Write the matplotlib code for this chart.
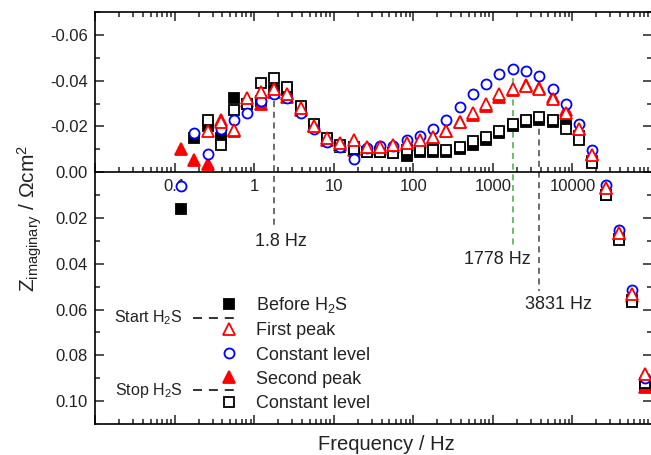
import numpy as np
import matplotlib
matplotlib.use('Agg')
import matplotlib.pyplot as plt
from matplotlib.lines import Line2D
from matplotlib.ticker import FixedLocator, FixedFormatter, LogLocator, MultipleLocator, NullFormatter, FuncFormatter

plt.rcParams['font.family'] = ['Liberation Sans', 'DejaVu Sans']
plt.rcParams['mathtext.fontset'] = 'custom'
plt.rcParams['mathtext.rm'] = 'Liberation Sans'
plt.rcParams['mathtext.it'] = 'Liberation Sans:italic'
plt.rcParams['mathtext.bf'] = 'Liberation Sans:bold'
plt.rcParams['axes.unicode_minus'] = False

nan = np.nan

# ---------------- data ----------------
freq = [0.121, 0.178, 0.261, 0.383, 0.562, 0.825, 1.21, 1.778, 2.61, 3.83,
        5.62, 8.25, 12.1, 17.8, 26.1, 38.3, 56.2, 82.5, 121, 178,
        261, 383, 562, 825, 1210, 1778, 2610, 3831, 5620, 8250,
        12100, 17780, 26100, 38310, 56200, 82500]

before_h2s = [0.016, -0.0148, -0.020, -0.0148, -0.0326, -0.030, -0.031, -0.036, -0.036, -0.028,
              -0.020, -0.014, -0.011, -0.011, -0.009, -0.0087, -0.0083, -0.007, -0.009, -0.009,
              -0.009, -0.010, -0.0117, -0.014, -0.017, -0.020, -0.022, -0.023, -0.022, -0.021,
              -0.016, -0.005, 0.010, 0.029, 0.056, 0.094]

first_peak = [nan, nan, -0.018, -0.022, -0.0183, -0.0326, -0.035, -0.0365, -0.034, -0.028,
              -0.020, -0.0148, -0.0126, -0.014, -0.011, -0.011, -0.0117, -0.0126, -0.014, -0.0152,
              -0.018, -0.022, -0.0257, -0.0296, -0.034, -0.0365, -0.0378, -0.0365, -0.032, -0.026,
              -0.0187, -0.0074, 0.007, 0.0265, 0.053, 0.088]

constant_1 = [0.006, -0.017, -0.0078, -0.019, -0.0226, -0.0257, -0.031, -0.034, -0.0326, -0.026,
              -0.0187, -0.013, -0.011, -0.0057, -0.0105, -0.0113, -0.0115, -0.014, -0.0157, -0.019,
              -0.023, -0.0287, -0.034, -0.0387, -0.043, -0.045, -0.0443, -0.042, -0.0365, -0.030,
              -0.021, -0.0096, 0.0057, 0.0252, 0.0513, 0.090]

second_peak = [-0.010, -0.0052, -0.0035, -0.023, -0.018, -0.031, -0.030, -0.035, -0.033, -0.027,
               -0.020, -0.014, -0.012, -0.0096, -0.010, -0.010, -0.011, -0.012, -0.013, -0.015,
               -0.018, -0.022, -0.025, -0.029, -0.033, -0.036, -0.038, -0.037, -0.033, -0.027,
               -0.019, -0.008, 0.007, 0.027, 0.054, 0.094]

constant_2 = [nan, nan, -0.0226, -0.012, -0.0274, -0.030, -0.039, -0.041, -0.0374, -0.029,
              -0.021, -0.015, -0.012, -0.010, -0.009, -0.0087, -0.0083, -0.0096, -0.0096, -0.0096,
              -0.0096, -0.011, -0.0135, -0.0152, -0.018, -0.021, -0.023, -0.024, -0.023, -0.019,
              -0.014, -0.004, 0.010, 0.0296, 0.0565, 0.092]

labels = ['Before H$_2$S', 'First peak', 'Constant level', 'Second peak', 'Constant level']

x_major = [0.01, 0.1, 1, 10, 100, 1000, 10000, 100000]
x_major_labels = ['', '0.1', '1', '10', '100', '1000', '10000', '']

# characteristic frequencies marked by dashed lines
marks_freq = [1.778, 1778, 3831]
marks_y0 = [-0.0313, -0.041, -0.0235]
marks_y1 = [0.023, 0.032, 0.052]
marks_color = ['#444444', '#44aa44', '#444444']
marks_text = ['1.8 Hz', '1778 Hz', '3831 Hz']
marks_text_x = [1.03, 428, 2563]
marks_text_y = [0.0302, 0.0383, 0.0578]

# ---------------- figure ----------------
W, H = 651, 455
fig = plt.figure(figsize=(W / 100, H / 100), dpi=100)
ax = fig.add_axes([95 / W, 1 - 424 / H, 557 / W, 412 / H])

ax.set_xscale('log')
ax.set_xlim(0.01, 100000)
ax.set_ylim(0.11, -0.07)

ms = 7.2
mew = 1.3
h1, = ax.plot(freq, before_h2s, ls='none', marker='s', ms=ms - 0.4, mfc='black', mec='black', mew=mew, zorder=3)
h4, = ax.plot(freq, second_peak, ls='none', marker='^', ms=ms + 0.8, mfc='#ff0000', mec='#ff0000', mew=mew, zorder=3)
h5, = ax.plot(freq, constant_2, ls='none', marker='s', ms=ms - 0.4, mfc='white', mec='black', mew=mew, zorder=3)
h3, = ax.plot(freq, constant_1, ls='none', marker='o', ms=ms, mfc='white', mec='#0000ff', mew=mew, zorder=3)
h2, = ax.plot(freq, first_peak, ls='none', marker='^', ms=ms + 0.8, mfc='white', mec='#ff0000', mew=mew, zorder=3)

for f, y0, y1, c, t, tx, ty in zip(marks_freq, marks_y0, marks_y1, marks_color, marks_text, marks_text_x, marks_text_y):
    ax.plot([f, f], [y0, y1], color=c, lw=1.1, dashes=(4, 3), zorder=2)
    ax.text(tx, ty, t, fontsize=13, ha='left', va='center', color='#222222')

# spines and ticks
for s in ax.spines.values():
    s.set_linewidth(1.2)
ax.spines['bottom'].set_position(('data', 0))

ax.xaxis.set_major_locator(FixedLocator(x_major))
ax.xaxis.set_major_formatter(FixedFormatter(x_major_labels))
ax.xaxis.set_minor_locator(LogLocator(base=10, subs=np.arange(2, 10), numticks=100))
ax.xaxis.set_minor_formatter(NullFormatter())
ax.yaxis.set_major_locator(MultipleLocator(0.02))
ax.yaxis.set_minor_locator(MultipleLocator(0.01))
ax.yaxis.set_major_formatter(FuncFormatter(lambda v, p: '%.2f' % v if abs(v) > 1e-9 else '0.00'))

ax.tick_params(which='both', direction='in', top=True, right=True, width=1.1, colors='#222222')
ax.tick_params(which='major', length=6.5)
ax.tick_params(which='minor', length=3.8)
ax.tick_params(axis='x', which='major', labelsize=12, pad=5)
ax.tick_params(axis='y', which='major', labelsize=12, pad=5)

sec = ax.secondary_xaxis('bottom')
sec.xaxis.set_major_locator(FixedLocator(x_major))
sec.xaxis.set_minor_locator(LogLocator(base=10, subs=np.arange(2, 10), numticks=100))
sec.xaxis.set_major_formatter(NullFormatter())
sec.xaxis.set_minor_formatter(NullFormatter())
sec.tick_params(which='both', direction='in', width=1.1, colors='#222222')
sec.tick_params(which='major', length=6.5)
sec.tick_params(which='minor', length=3.8)
sec.spines['bottom'].set_linewidth(1.2)

# axis labels
fig.text(386 / W, 1 - 450 / H, 'Frequency / Hz', fontsize=14.5, ha='center', va='baseline', color='#222222')
fig.text(30 / W, 1 - 218 / H, r'$\mathrm{Z}_{\mathrm{imaginary}}$ / Ωcm$^2$', fontsize=15,
         rotation=90, ha='center', va='center', color='#222222')

# legend
leg = ax.legend([h1, h2, h3, h4, h5], labels, loc='center left',
                bbox_to_anchor=(220 / W, 1 - 353.5 / H), bbox_transform=fig.transFigure,
                frameon=False, fontsize=13, handlelength=1.0, handletextpad=1.0,
                labelspacing=0.4, borderpad=0, borderaxespad=0)
for t in leg.get_texts():
    t.set_color('#222222')

# Start / Stop H2S annotations
for txt, yp in [('Start H$_2$S', 317.5), ('Stop H$_2$S', 390)]:
    fig.text(183 / W, 1 - yp / H, txt, fontsize=11.5, ha='right', va='center', color='#222222')
    fig.add_artist(Line2D([193 / W, 236 / W], [1 - yp / H, 1 - yp / H], transform=fig.transFigure,
                          color='#222222', lw=1.3, dashes=(5.0, 3.8)))

fig.savefig('out.png', dpi=100)
